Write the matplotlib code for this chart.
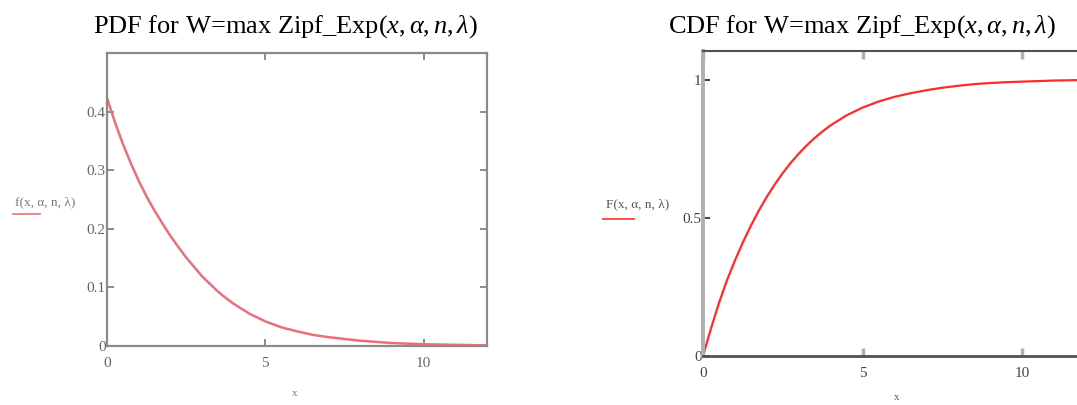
import matplotlib
matplotlib.use('Agg')
from matplotlib import pyplot as plt

plt.rcParams['font.family'] = ['Liberation Serif', 'DejaVu Serif']
plt.rcParams['mathtext.fontset'] = 'custom'
plt.rcParams['mathtext.rm'] = 'Liberation Serif'
plt.rcParams['mathtext.it'] = 'Liberation Serif:italic'

# values
x_vals = [0, 0.25, 0.5, 0.75, 1, 1.25, 1.5, 1.75, 2, 2.25, 2.5, 2.75, 3,
          3.25, 3.5, 3.75, 4, 4.5, 5, 5.5, 6, 6.5, 7, 7.5, 8, 8.5, 9, 9.5,
          10, 10.5, 11, 11.5, 12]
pdf_vals = [0.423, 0.382, 0.345, 0.312, 0.282, 0.255, 0.231, 0.209, 0.188,
            0.169, 0.151, 0.135, 0.119, 0.106, 0.093, 0.082, 0.072,
            0.055, 0.042, 0.032, 0.025, 0.019, 0.015, 0.012, 0.009, 0.007,
            0.005, 0.004, 0.003, 0.0025, 0.002, 0.0015, 0.001]
cdf_vals = [0.0, 0.100, 0.192, 0.274, 0.346, 0.412, 0.472, 0.527, 0.577,
            0.622, 0.663, 0.700, 0.733, 0.763, 0.790, 0.814, 0.836,
            0.872, 0.900, 0.922, 0.939, 0.952, 0.963, 0.972, 0.979, 0.985,
            0.989, 0.992, 0.994, 0.996, 0.998, 0.999, 1.0]

x_ticks = [0, 5, 10]
pdf_ticks = [0, 0.1, 0.2, 0.3, 0.4]
pdf_tick_labels = ['0', '0.1', '0.2', '0.3', '0.4']
cdf_ticks = [0, 0.5, 1]
cdf_tick_labels = ['0', '0.5', '1']

title_args = r'Zipf_Exp($x, \alpha, n, \lambda$)'

fig = plt.figure(figsize=(10.77, 4.05), dpi=100)

# ---- PDF ----
ax1 = fig.add_axes([107 / 1077, 59 / 405, 380 / 1077, 293 / 405])
ax1.plot(x_vals, pdf_vals, color='#e8707c', lw=1.8, solid_joinstyle='round')
ax1.set_xlim(0, 12)
ax1.set_ylim(0, 0.5)
ax1.set_xticks(x_ticks)
ax1.set_xticklabels(['0', '5', '10'])
ax1.set_yticks(pdf_ticks)
ax1.set_yticklabels(pdf_tick_labels)
for s in ax1.spines.values():
    s.set_color('#8a8a8a')
    s.set_linewidth(1.6)
ax1.tick_params(direction='in', length=5, width=1.4, color='#8a8a8a',
                top=True, right=True, labelsize=11, labelcolor='#666666')
ax1.tick_params(axis='y', pad=1)
ax1.tick_params(axis='x', pad=8)

fig.text(285 / 1077, 1 - 27 / 405, 'PDF for W=max ' + title_args,
         ha='center', va='center', fontsize=19)
fig.text(15 / 1077, 1 - 202 / 405, r'f(x, α, n, λ)', ha='left',
         va='center', fontsize=9.5, color='#777777')
fig.add_artist(plt.Line2D([13 / 1077, 40 / 1077], [1 - 214 / 405, 1 - 214 / 405],
                          color='#e8707c', lw=1.2))
fig.text(295 / 1077, 1 - 393 / 405, 'x', ha='center', va='center',
         fontsize=8, color='#777777')

# ---- CDF ----
ax2 = fig.add_axes([703 / 1077, 49 / 405, 383 / 1077, 305 / 405])
ax2.plot(x_vals, cdf_vals, color='#ff2b2b', lw=1.6, solid_joinstyle='round')
ax2.set_xlim(0, 12)
ax2.set_ylim(0, 1.105)
ax2.set_xticks(x_ticks)
ax2.set_xticklabels(['0', '5', '10'])
ax2.set_yticks(cdf_ticks)
ax2.set_yticklabels(cdf_tick_labels)
ax2.spines['left'].set_color('#b0b0b0')
ax2.spines['left'].set_linewidth(2.8)
ax2.spines['bottom'].set_color('#505050')
ax2.spines['bottom'].set_linewidth(2.0)
ax2.spines['top'].set_color('#505050')
ax2.spines['top'].set_linewidth(1.5)
ax2.spines['right'].set_color('#505050')
ax2.tick_params(direction='in', top=True, right=True, labelsize=11,
                labelcolor='#444444')
ax2.tick_params(axis='x', length=6, width=2.5, color='#b0b0b0', pad=8)
ax2.tick_params(axis='y', length=5, width=1.2, color='#222222', pad=1)

fig.text(862 / 1077, 1 - 27 / 405, 'CDF for W=max ' + title_args,
         ha='center', va='center', fontsize=19)
fig.text(606 / 1077, 1 - 204 / 405, r'F(x, α, n, λ)', ha='left',
         va='center', fontsize=9.5, color='#555555')
fig.add_artist(plt.Line2D([603 / 1077, 634 / 1077], [1 - 219 / 405, 1 - 219 / 405],
                          color='#ff2b2b', lw=1.2))
fig.text(897 / 1077, 1 - 398 / 405, 'x', ha='center', va='center',
         fontsize=8, color='#555555')

fig.savefig('out.png', dpi=100)
